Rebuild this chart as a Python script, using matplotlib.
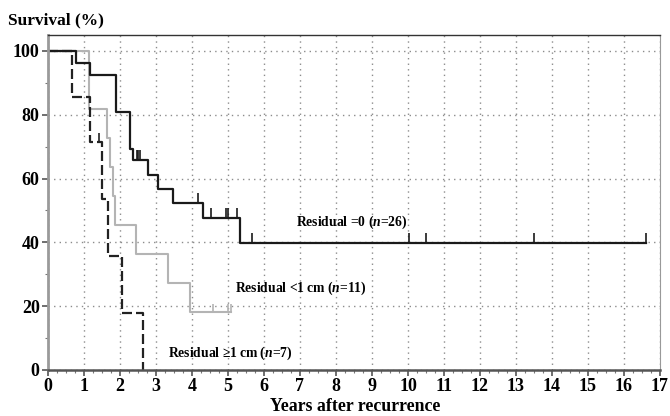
import matplotlib
matplotlib.use('Agg')
import matplotlib.pyplot as plt
from matplotlib.ticker import MultipleLocator

# Kaplan-Meier steps
zero_t = [0, 0.77, 1.17, 1.9, 2.27, 2.37, 2.78, 3.07, 3.47, 4.32, 5.33, 16.6]
zero_s = [100, 96.2, 92.3, 80.8, 69.2, 65.8, 61.2, 56.8, 52.4, 47.5, 39.7, 39.7]
zero_cens = [2.46, 2.51, 2.57, 4.17, 4.52, 4.94, 4.99, 5.26, 5.67, 10.03, 10.5, 13.5, 16.6]

small_t = [0, 1.15, 1.64, 1.73, 1.82, 1.87, 1.91, 2.44, 3.34, 3.94, 5.08]
small_s = [100, 81.8, 72.7, 63.6, 54.5, 45.5, 45.5, 36.4, 27.3, 18.2, 18.2]
small_cens = [4.58, 5.0, 5.08]

big_t = [0, 0.67, 1.17, 1.49, 1.68, 2.07, 2.64]
big_s = [100, 85.7, 71.4, 53.6, 35.7, 17.9, 0]
big_cens = [1.42]

x_ticks = list(range(0, 18))
y_ticks = [0, 20, 40, 60, 80, 100]

serif = ['Liberation Serif', 'DejaVu Serif']
plt.rcParams['font.family'] = serif
plt.rcParams['font.weight'] = 'bold'
plt.rcParams['mathtext.fontset'] = 'custom'
plt.rcParams['mathtext.rm'] = 'Liberation Serif:bold'
plt.rcParams['mathtext.it'] = 'Liberation Serif:italic:bold'
plt.rcParams['mathtext.bf'] = 'Liberation Serif:bold'
plt.rcParams['mathtext.fallback'] = 'stix'


def surv_at(t, times, surv):
    val = surv[0]
    for tt, ss in zip(times, surv):
        if tt <= t:
            val = ss
    return val


fig = plt.figure(figsize=(6.7, 4.16), dpi=100)
ax = fig.add_axes([0.0716, 0.1106, 0.9134, 0.8054])

ax.step(small_t, small_s, where='post', color='#b4b4b4', lw=1.5)
ax.vlines(small_cens, [surv_at(t, small_t, small_s) for t in small_cens],
          [surv_at(t, small_t, small_s) + 2.5 for t in small_cens], color='#b4b4b4', lw=1.2)

ln, = ax.step(big_t, big_s, where='post', color='#222222', lw=1.6)
ln.set_dashes((4.5, 1.8))
ax.vlines(big_cens, [surv_at(t, big_t, big_s) for t in big_cens],
          [surv_at(t, big_t, big_s) + 3 for t in big_cens], color='#222222', lw=1.2)

ax.step(zero_t, zero_s, where='post', color='#1a1a1a', lw=1.6)
ax.vlines(zero_cens, [surv_at(t, zero_t, zero_s) for t in zero_cens],
          [surv_at(t, zero_t, zero_s) + 3.2 for t in zero_cens], color='#1a1a1a', lw=1.2)

ax.set_xlim(0, 17)
ax.set_ylim(0, 105)
ax.set_xticks(x_ticks)
ax.set_yticks(y_ticks)
ax.xaxis.set_minor_locator(MultipleLocator(0.25))
ax.yaxis.set_minor_locator(MultipleLocator(10))
ax.grid(True, which='major', color='#8c8c8c', linestyle=(0, (1, 3)), lw=1.0)
ax.tick_params(axis='both', which='major', labelsize=13, length=4, width=1.2,
               color='#555555', pad=2)
ax.tick_params(axis='both', which='minor', length=2, width=0.8, color='#777777')
for lab in ax.get_xticklabels() + ax.get_yticklabels():
    lab.set_fontweight('bold')

ax.spines['left'].set_color('#9a9a9a')
ax.spines['left'].set_linewidth(2.0)
ax.spines['bottom'].set_color('#555555')
ax.spines['bottom'].set_linewidth(1.8)
ax.spines['top'].set_color('#333333')
ax.spines['top'].set_linewidth(1.0)
ax.spines['right'].set_color('#999999')
ax.spines['right'].set_linewidth(0.8)

ax.text(6.9, 46.3, 'Residual =0 ($\\mathit{n}$=26)', fontsize=9.8, fontweight='bold', va='center')
ax.text(5.2, 25.6, 'Residual <1\u2009cm ($\\mathit{n}$=11)', fontsize=9.8, fontweight='bold',
        va='center')
ax.text(3.33, 5.3, 'Residual \u22651\u2009cm ($\\mathit{n}$=7)', fontsize=9.8,
        fontweight='bold', va='center')

fig.text(0.012, 0.952, 'Survival (%)', fontsize=12.5, fontweight='bold', va='center')
fig.text(0.53, 0.022, 'Years after recurrence', fontsize=12.8, fontweight='bold',
         ha='center', va='center')

fig.savefig('out.png', dpi=100)
